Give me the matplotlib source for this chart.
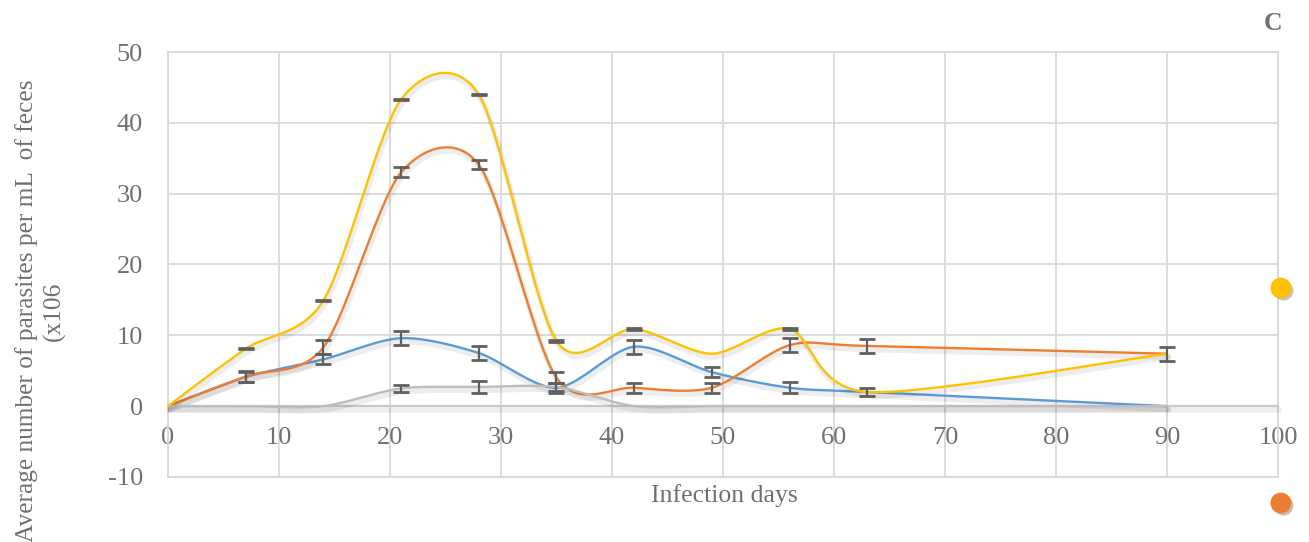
import numpy as np
import matplotlib
matplotlib.use('Agg')
import matplotlib.pyplot as plt
import matplotlib.patheffects as pe
from matplotlib.lines import Line2D

# sampling days and mean counts (x10^6 parasites / mL)
days = [0, 7, 14, 21, 28, 35, 42, 49, 56, 63, 90]

blue = [0, 4.1, 6.6, 9.6, 7.5, 2.6, 8.4, 4.8, 2.6, 2.0, 0]
blue_err = [0, 0.7, 0.7, 1.0, 1.0, 0.7, 1.0, 0.7, 0.8, 0, 0]

orange = [0, 4.2, 8.3, 33.0, 34.1, 4.0, 2.6, 2.6, 8.6, 8.5, 7.4]
orange_err = [0, 0.8, 1.0, 0.7, 0.6, 0.8, 0.7, 0.7, 1.0, 1.0, 1.0]

gray = [0, 0, 0, 2.5, 2.7, 2.7, 0, 0, 0, 0, 0]
gray_err = [0, 0, 0, 0.5, 0.8, 0.6, 0, 0, 0, 0, 0]

yellow = [0, 8.1, 14.9, 43.3, 44.0, 9.2, 10.9, 7.4, 10.9, 2.0, 7.4]
yellow_err = [0, 0.08, 0.08, 0.08, 0.08, 0.08, 0.08, 0, 0.08, 0.6, 0]

xticks = list(range(0, 101, 10))
yticks = list(range(-10, 51, 10))

txt = '#707070'
grid = '#d9d9d9'
plt.rcParams['font.family'] = ['Liberation Serif', 'DejaVu Serif']
plt.rcParams['axes.unicode_minus'] = False


def smooth(x, y, n=40, k=0.85):
    # excel-like smoothed line: catmull-rom bezier through the points
    p = np.column_stack([x, y]).astype(float)
    pts = []
    for i in range(len(p) - 1):
        p0 = p[i - 1] if i > 0 else p[i]
        p1, p2 = p[i], p[i + 1]
        p3 = p[i + 2] if i + 2 < len(p) else p[i + 1]
        c1 = p1 + k * (p2 - p0) / 6
        c2 = p2 - k * (p3 - p1) / 6
        t = np.linspace(0, 1, n)[:, None]
        seg = (1 - t)**3 * p1 + 3 * (1 - t)**2 * t * c1 + 3 * (1 - t) * t**2 * c2 + t**3 * p2
        pts.append(seg if i == 0 else seg[1:])
    pts = np.vstack(pts)
    return pts[:, 0], pts[:, 1]


fig = plt.figure(figsize=(13.09, 5.42), dpi=100)
ax = fig.add_axes([0.1283, 0.12, 0.848, 0.784])

shadow = [pe.SimpleLineShadow(offset=(1, -2.5), shadow_color='black', alpha=0.07, linewidth=4), pe.Normal()]

series = [(blue, blue_err, '#5B9BD5'), (orange, orange_err, '#ED7D31'),
          (gray, gray_err, '#BDBDBD'), (yellow, yellow_err, '#FFC000')]

for k, (vals, err, col) in enumerate(series):
    sx, sy = smooth(days, vals)
    ax.plot(sx, sy, color=col, lw=1.7, zorder=3 + k, path_effects=shadow, solid_capstyle='round')

for k, (vals, err, col) in enumerate(series):
    d = [days[i] for i in range(len(days)) if err[i] > 0]
    v = [vals[i] for i in range(len(days)) if err[i] > 0]
    e = [err[i] for i in range(len(days)) if err[i] > 0]
    ax.errorbar(d, v, yerr=e, fmt='none', ecolor='#606060', elinewidth=1.6,
                capsize=5.5, capthick=2, zorder=10)

ax.set_xlim(0, 100)
ax.set_ylim(-10, 50)
ax.set_xticks(xticks)
ax.set_yticks(yticks)
ax.grid(True, color=grid, lw=1.3, zorder=0)
ax.set_axisbelow(True)

for s in ['left', 'top', 'right']:
    ax.spines[s].set_color(grid)
    ax.spines[s].set_linewidth(1.3)
ax.spines['bottom'].set_position(('data', 0))
ax.spines['bottom'].set_color('#c8c8c8')
ax.spines['bottom'].set_linewidth(1.6)
ax.spines['bottom'].set_path_effects(shadow)
ax.axhline(-10, color=grid, lw=1.3, clip_on=False, zorder=0)

ax.tick_params(length=0, labelsize=19, colors=txt)
ax.tick_params(axis='x', pad=15)
ax.tick_params(axis='y', pad=18)

fig.text(0.553, 0.085, 'Infection days', ha='center', va='center', fontsize=18.5, color=txt)
fig.text(0.031, 0.426, 'Average number of parasites per mL  of feces\n(x106',
         rotation=90, ha='center', va='center', fontsize=18.3, color=txt,
         multialignment='center', linespacing=1.3)
fig.text(0.9725, 0.957, 'C', ha='center', va='center', fontsize=18.5, color=txt, fontweight='bold')

# legend keys (labels fall outside the picture)
for col, yy in [('#FFC000', 1 - 288 / 542), ('#ED7D31', 1 - 503 / 542)]:
    fig.add_artist(Line2D([0.9785], [yy], marker='o', markersize=14, color=col, lw=0,
                          path_effects=[pe.SimplePatchShadow(offset=(2, -2), alpha=0.3), pe.Normal()]))

fig.savefig('out.png', dpi=100)
